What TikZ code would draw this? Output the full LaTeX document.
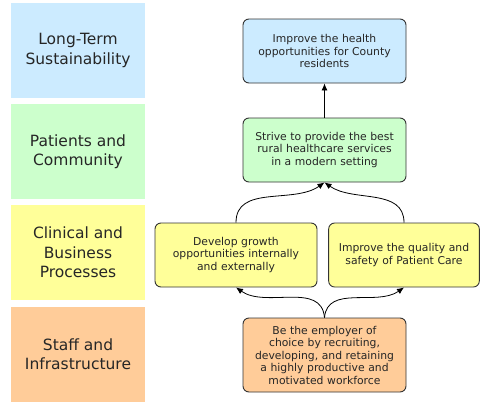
\documentclass[tikz,border=0pt]{standalone}
\usepackage{fontspec}
\setmainfont{DejaVu Sans}
\usetikzlibrary{arrows.meta}
\definecolor{skyband}{HTML}{CCEBFF}
\definecolor{mintband}{HTML}{CCFFCC}
\definecolor{lemonband}{HTML}{FFFF99}
\definecolor{peachband}{HTML}{FFCC99}
\begin{document}
\begin{tikzpicture}[x=1pt,y=-1pt,
  band/.style={minimum width=134pt,minimum height=95pt,align=center,
    font=\fontsize{15.5}{19.5}\selectfont,text=black!85},
  goal/.style={draw=black!80,line width=0.9pt,rounded corners=6pt,align=center,
    minimum width=163pt,minimum height=64pt,text width=155pt,
    font=\fontsize{10.8}{12.5}\selectfont,text=black!85},
  link/.style={-{Latex[length=7pt,width=6pt]},line width=0.8pt}]
\useasboundingbox (0,0) rectangle (482,402);

% perspective bands
\node[band,fill=skyband] (sustain) at (78,50.5) {Long-Term\\Sustainability};
\node[band,fill=mintband] (patients) at (78,151.5) {Patients and\\Community};
\node[band,fill=lemonband] (process) at (78,252.5) {Clinical and\\Business\\Processes};
\node[band,fill=peachband] (staff) at (78,354) {Staff and\\Infrastructure};

% objectives
\node[goal,fill=skyband] (health) at (324.5,51) {Improve the health\\opportunities for County\\residents};
\node[goal,fill=mintband] (rural) at (324.5,150) {Strive to provide the best\\rural healthcare services\\in a modern setting};
\node[goal,fill=lemonband,minimum width=162pt] (growth) at (236,255) {Develop growth\\opportunities internally\\and externally};
\node[goal,fill=lemonband,minimum width=148pt,text width=144pt] (quality) at (404,255) {Improve the quality and\\safety of Patient Care};
\node[goal,fill=peachband,minimum height=74pt] (employer) at (324.5,355) {Be the employer of\\choice by recruiting,\\developing, and retaining\\a highly productive and\\motivated workforce};

% links
\draw[link] (rural) -- (health);
\draw[link] (growth.north) to[out=90,in=-145] (rural.south);
\draw[link] (quality.north) to[out=90,in=-35] (rural.south);
\draw[link] (employer.north) to[out=95,in=-35] (growth.south);
\draw[link] (employer.north) to[out=85,in=-145] (quality.south);
\end{tikzpicture}
\end{document}
